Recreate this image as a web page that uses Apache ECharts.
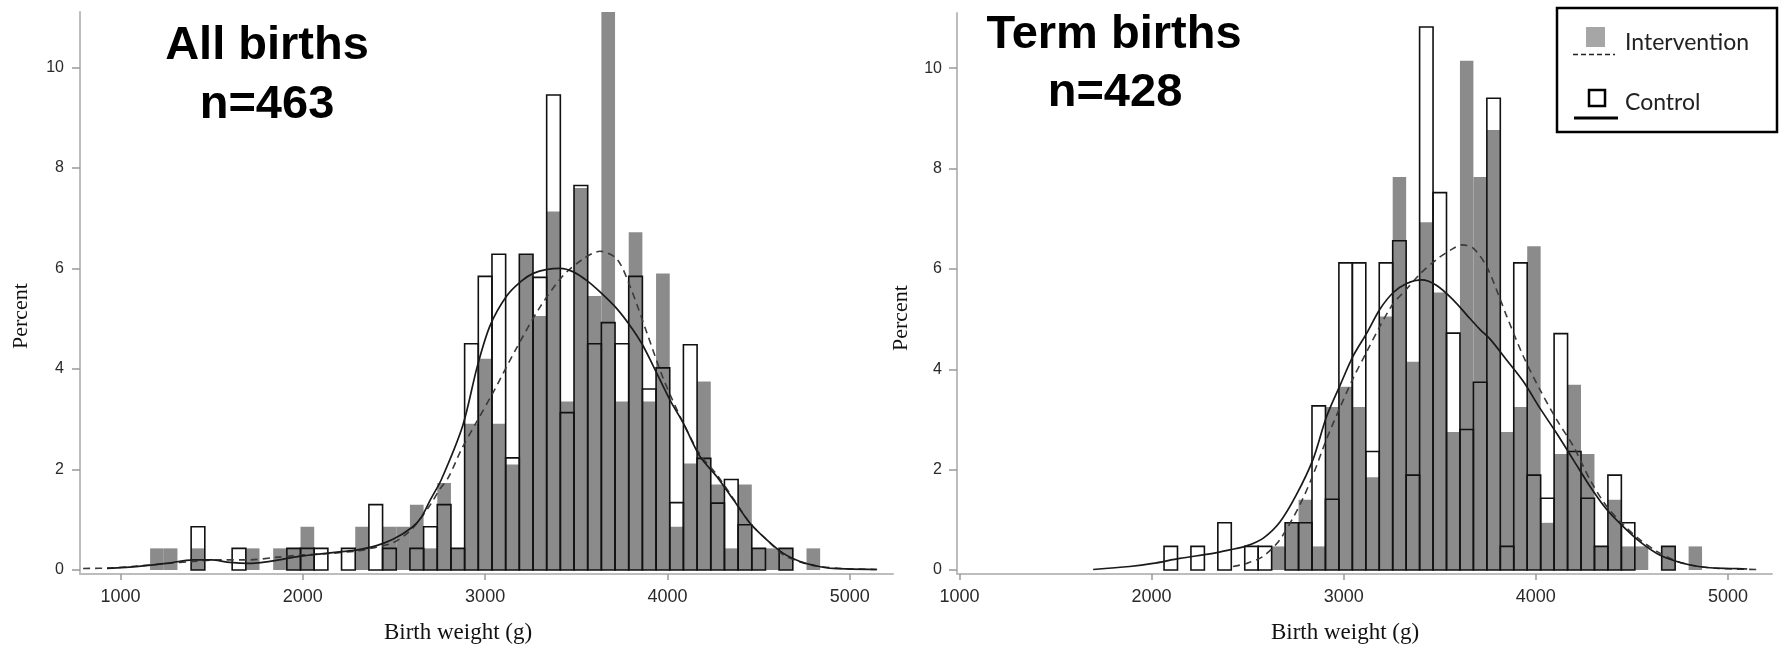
<!DOCTYPE html>
<html>
<head>
<meta charset="utf-8">
<script src="https://cdn.jsdelivr.net/npm/echarts@6/dist/echarts.min.js"></script>
<style>html,body{margin:0;padding:0;background:#fff;}#c{width:1783px;height:648px;}</style>
</head>
<body>
<div id="c"></div>
<script>
// ---------- DATA ----------
const xTicks = [1000, 2000, 3000, 4000, 5000];
const yTicks = [0, 2, 4, 6, 8, 10];

// Left panel: All births (bin width 75 g)
const leftBinWidth = 75;
const leftControlBins = [1425,1650,1950,2025,2100,2250,2400,2475,2625,2700,2775,2850,2925,3000,3075,3150,3225,3300,3375,3450,3525,3600,3675,3750,3825,3900,3975,4050,4125,4200,4275,4350,4425,4500,4650];
const leftControlPct  = [0.86,0.43,0.43,0.43,0.43,0.43,1.3,0.43,0.43,0.86,1.3,0.43,4.5,5.84,6.28,2.23,6.28,5.82,9.45,3.13,7.65,4.5,4.92,4.5,5.84,3.6,4.02,1.34,4.48,2.22,1.33,1.8,0.9,0.43,0.43];
const leftInterBins = [1200,1275,1425,1725,1875,1950,2025,2325,2475,2550,2625,2700,2775,2850,2925,3000,3075,3150,3225,3300,3375,3450,3525,3600,3675,3750,3825,3900,3975,4050,4125,4200,4275,4350,4425,4500,4575,4650,4800];
const leftInterPct  = [0.43,0.43,0.43,0.43,0.43,0.43,0.86,0.86,0.86,0.86,1.3,0.43,1.73,0.43,2.91,4.2,2.91,2.1,6.28,5.05,7.13,3.35,7.6,5.45,11.14,3.35,6.72,3.35,5.9,0.86,2.12,3.75,1.7,0.43,1.7,0.43,0.43,0.43,0.43];

const leftControlCurveX = [926,1100,1250,1400,1500,1600,1700,1800,1900,2000,2100,2200,2300,2400,2500,2600,2650,2700,2760,2877,2957,3027,3118,3200,3264,3340,3411,3484,3560,3630,3722,3795,3860,3923,4014,4087,4178,4270,4361,4453,4545,4636,4727,4819,4910,5148];
const leftControlCurveY = [0.03,0.07,0.13,0.2,0.2,0.15,0.13,0.16,0.22,0.28,0.32,0.36,0.4,0.48,0.62,0.85,1.05,1.4,1.8,2.87,4.05,4.86,5.45,5.75,5.9,5.98,6.0,5.93,5.75,5.53,5.2,4.86,4.5,4.05,3.38,2.92,2.26,1.86,1.4,0.93,0.6,0.33,0.17,0.08,0.03,0.01];
const leftInterCurveX = [795,950,1100,1250,1400,1550,1700,1850,2000,2150,2300,2400,2500,2600,2700,2750,2800,2870,2954,3045,3173,3301,3429,3539,3630,3722,3795,3887,3978,4087,4178,4270,4361,4453,4545,4636,4727,4819,4955,5150];
const leftInterCurveY = [0.03,0.04,0.08,0.13,0.17,0.2,0.2,0.25,0.3,0.33,0.38,0.45,0.55,0.82,1.3,1.6,1.85,2.4,2.95,3.54,4.42,5.23,5.86,6.19,6.34,6.19,5.64,4.72,3.8,2.92,2.3,1.9,1.42,0.93,0.6,0.3,0.16,0.08,0.03,0.01];

// Right panel: Term births (bin width 70 g)
const rightBinWidth = 70;
const rightControlBins = [2100,2240,2380,2520,2590,2730,2800,2870,2940,3010,3080,3150,3220,3290,3360,3430,3500,3570,3640,3710,3780,3850,3920,3990,4060,4130,4200,4270,4340,4410,4480,4690];
const rightControlPct  = [0.47,0.47,0.94,0.47,0.47,0.94,0.94,3.27,1.41,6.12,6.12,2.36,6.12,6.56,1.89,10.82,7.52,4.72,2.8,3.74,9.4,0.47,6.12,1.89,1.43,4.71,2.36,1.43,0.47,1.89,0.94,0.47];
const rightInterBins = [2660,2730,2800,2870,2940,3010,3080,3150,3220,3290,3360,3430,3500,3570,3640,3710,3780,3850,3920,3990,4060,4130,4200,4270,4340,4410,4480,4550,4690,4830];
const rightInterPct  = [0.47,0.94,1.4,0.47,3.25,3.65,3.25,1.85,5.05,7.83,4.15,6.93,5.53,2.75,10.15,7.83,8.77,2.75,3.25,6.45,0.94,2.31,3.69,2.31,0.47,1.4,0.47,0.47,0.47,0.47];

const rightControlCurveX = [1696,1886,2007,2146,2320,2407,2494,2580,2667,2754,2841,2910,2981,3050,3120,3189,3258,3328,3406,3484,3571,3641,3710,3762,3849,3936,4022,4109,4196,4283,4370,4456,4543,4630,4717,4804,4890,5012,5100];
const rightControlCurveY = [0.01,0.07,0.13,0.23,0.33,0.4,0.48,0.63,0.95,1.5,2.21,3.05,3.68,4.27,4.72,5.2,5.53,5.71,5.78,5.67,5.38,5.08,4.79,4.6,4.18,3.75,3.22,2.72,2.19,1.66,1.2,0.86,0.56,0.33,0.19,0.1,0.05,0.03,0.02];
const rightInterCurveX = [2424,2494,2580,2667,2772,2841,2910,2981,3050,3120,3189,3258,3328,3397,3484,3571,3615,3675,3745,3814,3849,3936,4022,4109,4196,4283,4370,4456,4543,4630,4717,4804,4950,5150];
const rightInterCurveY = [0.07,0.13,0.27,0.6,1.3,1.9,2.6,3.24,3.83,4.35,4.86,5.31,5.6,5.9,6.19,6.41,6.48,6.41,6.04,5.4,5.05,4.25,3.59,2.99,2.46,1.79,1.26,0.9,0.6,0.37,0.2,0.1,0.03,0.01];

// ---------- HELPERS ----------
function zip(a, b) { return a.map((v, i) => [v, b[i]]); }
function barData(bins, pct, w) { return bins.map((v, i) => [v, pct[i], w]); }
function barRender(filled) {
  return function (params, api) {
    const x = api.value(0), h = api.value(1), w = api.value(2);
    const p0 = api.coord([x - w / 2, 0]);
    const p1 = api.coord([x + w / 2, h]);
    const r = { x: p0[0], y: p1[1], width: p1[0] - p0[0], height: p0[1] - p1[1] };
    const cs = params.coordSys;
    const clipped = echarts.graphic.clipRectByRect(r, { x: cs.x, y: cs.y, width: cs.width, height: cs.height });
    if (!clipped) return;
    return {
      type: 'rect',
      shape: clipped,
      style: filled ? { fill: '#8b8b8b' } : { fill: 'transparent', stroke: '#111', lineWidth: 1.6 }
    };
  };
}

const axisLineStyle = { color: '#bdbdbd', width: 2 };
function xAxisDef(idx, min, max) {
  return {
    type: 'value', gridIndex: idx, min: min, max: max,
    axisLine: { show: true, onZero: false, lineStyle: axisLineStyle },
    axisTick: { show: true, length: 6, customValues: xTicks, lineStyle: { color: '#999', width: 1.5 } },
    axisLabel: { customValues: xTicks, formatter: v => String(v), margin: 14, fontSize: 18, color: '#2a2a2a', fontFamily: 'Liberation Sans' },
    splitLine: { show: false }
  };
}
function yAxisDef(idx, margin) {
  return {
    type: 'value', gridIndex: idx, min: -0.08, max: 11.1,
    axisLine: { show: true, onZero: false, lineStyle: axisLineStyle },
    axisTick: { show: true, length: 8, customValues: yTicks, lineStyle: { color: '#999', width: 1.5 } },
    axisLabel: { customValues: yTicks, formatter: v => String(v), margin: margin, fontSize: 16, color: '#2a2a2a', fontFamily: 'Liberation Sans' },
    splitLine: { show: false }
  };
}

const chart = echarts.init(document.getElementById('c'), null, { renderer: 'canvas' });

const titleFont = 'bold 47px "Liberation Sans"';
const option = {
  animation: false,
  backgroundColor: '#ffffff',
  grid: [
    { left: 80, top: 12, width: 813, height: 562 },
    { left: 957, top: 13, width: 815, height: 561 }
  ],
  xAxis: [xAxisDef(0, 778, 5237), xAxisDef(1, 987.5, 5229)],
  yAxis: [yAxisDef(0, 16), yAxisDef(1, 15)],
  series: [
    { type: 'custom', xAxisIndex: 0, yAxisIndex: 0, z: 1, renderItem: barRender(true), data: barData(leftInterBins, leftInterPct, leftBinWidth) },
    { type: 'custom', xAxisIndex: 0, yAxisIndex: 0, z: 2, renderItem: barRender(false), data: barData(leftControlBins, leftControlPct, leftBinWidth) },
    { type: 'line', xAxisIndex: 0, yAxisIndex: 0, z: 3, smooth: 0.3, symbol: 'none', data: zip(leftInterCurveX, leftInterCurveY), lineStyle: { color: '#3a3a3a', width: 1.6, type: [7, 5] } },
    { type: 'line', xAxisIndex: 0, yAxisIndex: 0, z: 4, smooth: 0.3, symbol: 'none', data: zip(leftControlCurveX, leftControlCurveY), lineStyle: { color: '#1a1a1a', width: 1.7 } },

    { type: 'custom', xAxisIndex: 1, yAxisIndex: 1, z: 1, renderItem: barRender(true), data: barData(rightInterBins, rightInterPct, rightBinWidth) },
    { type: 'custom', xAxisIndex: 1, yAxisIndex: 1, z: 2, renderItem: barRender(false), data: barData(rightControlBins, rightControlPct, rightBinWidth) },
    { type: 'line', xAxisIndex: 1, yAxisIndex: 1, z: 3, smooth: 0.3, symbol: 'none', data: zip(rightInterCurveX, rightInterCurveY), lineStyle: { color: '#3a3a3a', width: 1.6, type: [7, 5] } },
    { type: 'line', xAxisIndex: 1, yAxisIndex: 1, z: 4, smooth: 0.3, symbol: 'none', data: zip(rightControlCurveX, rightControlCurveY), lineStyle: { color: '#1a1a1a', width: 1.7 } }
  ],
  graphic: [
    // titles
    { type: 'text', position: [267, 46], style: { text: 'All births', fill: '#000', font: titleFont, textAlign: 'center', textVerticalAlign: 'middle' } },
    { type: 'text', position: [267, 105], style: { text: 'n=463', fill: '#000', font: titleFont, textAlign: 'center', textVerticalAlign: 'middle' } },
    { type: 'text', position: [1114, 35], style: { text: 'Term births', fill: '#000', font: titleFont, textAlign: 'center', textVerticalAlign: 'middle' } },
    { type: 'text', position: [1115, 93], style: { text: 'n=428', fill: '#000', font: titleFont, textAlign: 'center', textVerticalAlign: 'middle' } },
    // axis names
    { type: 'text', rotation: Math.PI / 2, position: [21, 316], style: { text: 'Percent', fill: '#111', font: '22px "Liberation Serif"', textAlign: 'center', textVerticalAlign: 'middle' } },
    { type: 'text', rotation: Math.PI / 2, position: [901, 318], style: { text: 'Percent', fill: '#111', font: '22px "Liberation Serif"', textAlign: 'center', textVerticalAlign: 'middle' } },
    { type: 'text', position: [458, 633], style: { text: 'Birth weight (g)', fill: '#111', font: '23px "Liberation Serif"', textAlign: 'center', textVerticalAlign: 'middle' } },
    { type: 'text', position: [1345, 633], style: { text: 'Birth weight (g)', fill: '#111', font: '23px "Liberation Serif"', textAlign: 'center', textVerticalAlign: 'middle' } },
    // legend box
    { type: 'rect', z: 10, shape: { x: 1557, y: 8, width: 220, height: 124 }, style: { fill: '#fff', stroke: '#000', lineWidth: 2.5 } },
    { type: 'rect', z: 11, shape: { x: 1586, y: 27, width: 19, height: 20 }, style: { fill: '#a6a6a6' } },
    { type: 'line', z: 11, shape: { x1: 1573, y1: 54.5, x2: 1615, y2: 54.5 }, style: { stroke: '#222', lineWidth: 1.5, lineDash: [5, 3] } },
    { type: 'text', z: 11, position: [1625, 43], style: { text: 'Intervention', fill: '#222', font: '23px Lato', textAlign: 'left', textVerticalAlign: 'middle' } },
    { type: 'rect', z: 11, shape: { x: 1589, y: 90, width: 16, height: 16 }, style: { fill: '#fff', stroke: '#000', lineWidth: 2.5 } },
    { type: 'line', z: 11, shape: { x1: 1574, y1: 118, x2: 1618, y2: 118 }, style: { stroke: '#000', lineWidth: 3 } },
    { type: 'text', z: 11, position: [1625, 103], style: { text: 'Control', fill: '#222', font: '23px Lato', textAlign: 'left', textVerticalAlign: 'middle' } }
  ]
};
chart.setOption(option);
</script>
</body>
</html>
